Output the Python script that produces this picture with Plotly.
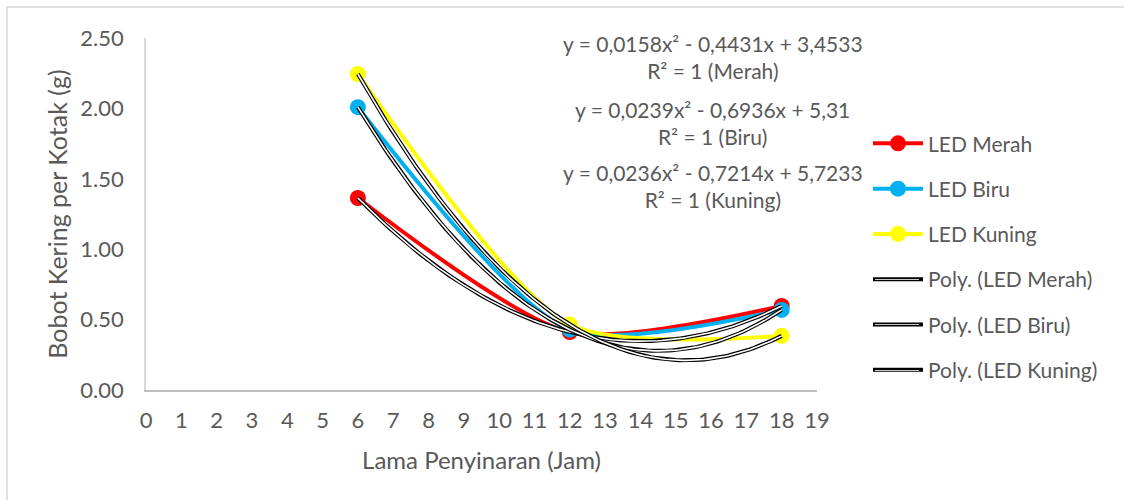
import numpy as np
import plotly.graph_objects as go

# ---- data ----
hours = [6, 12, 18]
led_merah = [1.3635, 0.4113, 0.5967]
led_biru = [2.0088, 0.4284, 0.5688]
led_kuning = [2.2445, 0.4649, 0.3845]

coef_merah = [0.0158, -0.4431, 3.4533]
coef_biru = [0.0239, -0.6936, 5.31]
coef_kuning = [0.0236, -0.7214, 5.7233]

eq_labels = [
    "y = 0,0158x² - 0,4431x + 3,4533<br>R² = 1 (Merah)",
    "y = 0,0239x² - 0,6936x + 5,31<br>R² = 1 (Biru)",
    "y = 0,0236x² - 0,7214x + 5,7233<br>R² = 1 (Kuning)",
]

x_ticks = list(range(0, 20))
y_ticks = [0, 0.5, 1.0, 1.5, 2.0, 2.5]

FONT = "Lato"
TXT = "#595959"

fig = go.Figure()

series = [
    ("LED Merah", led_merah, "#FF0000"),
    ("LED Biru", led_biru, "#00B0F0"),
    ("LED Kuning", led_kuning, "#FFFF00"),
]
for i, (name, ys, col) in enumerate(series):
    fig.add_trace(go.Scatter(
        x=hours, y=ys, name=name, mode="lines+markers",
        line=dict(color=col, width=4, shape="spline", smoothing=0.7),
        marker=dict(color=col, size=16),
        legendgroup=f"g{i}", legendrank=i + 1,
    ))

xs = np.linspace(hours[0], hours[-1], 121)
trends = [
    ("Poly. (LED Merah)", coef_merah),
    ("Poly. (LED Biru)", coef_biru),
    ("Poly. (LED Kuning)", coef_kuning),
]
for j, (name, (a, b, c)) in enumerate(trends):
    ys = a * xs**2 + b * xs + c
    grp = f"t{j}"
    fig.add_trace(go.Scatter(
        x=xs, y=ys, name=name, mode="lines",
        line=dict(color="black", width=4),
        legendgroup=grp, legendrank=10 + j, hoverinfo="skip",
    ))
    fig.add_trace(go.Scatter(
        x=xs, y=ys, name=name, mode="lines",
        line=dict(color="white", width=1.6),
        legendgroup=grp, showlegend=False, hoverinfo="skip",
    ))

ann_y = [2.365, 1.898, 1.452]
for k, txt in enumerate(eq_labels):
    fig.add_annotation(
        x=16.05, y=ann_y[k], xref="x", yref="y", text=txt, showarrow=False,
        font=dict(family=FONT, size=21, color=TXT), align="center",
    )

# inner light stroke of the double-line legend symbols for the trendlines
for ly in [0.3153, 0.1875, 0.0568]:
    fig.add_annotation(
        x=1.1185, y=ly, xref="paper", yref="paper", text="&nbsp;",
        xanchor="center", yanchor="middle",
        showarrow=False, font=dict(size=1), width=44, height=1.3,
        bgcolor="#c8c8c8", borderpad=0, borderwidth=0,
    )

fig.add_shape(type="rect", xref="paper", yref="paper",
              x0=-0.2072, x1=1.47, y0=-0.35, y1=1.088,
              line=dict(color="#d9d9d9", width=1.5), layer="below")

fig.update_layout(
    width=1124, height=500,
    margin=dict(l=146, r=307, t=38, b=110),
    plot_bgcolor="white", paper_bgcolor="white",
    font=dict(family=FONT, size=21, color=TXT),
    showlegend=True,
    legend=dict(
        x=1.076, y=0.758, xanchor="left", yanchor="top",
        font=dict(family=FONT, size=21, color=TXT),
        traceorder="grouped", tracegroupgap=15, itemwidth=50,
        bgcolor="rgba(0,0,0,0)",
    ),
    xaxis=dict(
        range=[0, 19], tickvals=x_ticks, showgrid=False, zeroline=False,
        showline=True, linecolor="#bfbfbf", linewidth=1.5, ticks="",
        ticklabelstandoff=10,
        title=dict(text="Lama Penyinaran (Jam)", font=dict(size=24, color=TXT), standoff=20),
        tickfont=dict(size=22, color=TXT),
    ),
    yaxis=dict(
        range=[0, 2.5], tickvals=y_ticks, tickformat=".2f", showgrid=False,
        zeroline=False, showline=True, linecolor="#d9d9d9", linewidth=1.5, ticks="",
        ticklabelstandoff=16,
        title=dict(text="Bobot Kering per Kotak (g)", font=dict(size=25, color=TXT), standoff=6),
        tickfont=dict(size=22, color=TXT),
    ),
)

fig.write_html("out.html", config={"displayModeBar": False},
               post_script="document.body.style.margin='0';")
